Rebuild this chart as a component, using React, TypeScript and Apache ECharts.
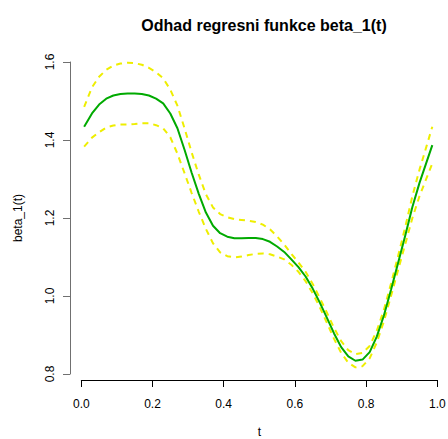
import React, { useEffect, useRef } from "react";
import * as echarts from "echarts";

const tValues = [
  0.008, 0.03, 0.05, 0.07, 0.09, 0.11, 0.13, 0.15, 0.17, 0.19,
  0.21, 0.23, 0.25, 0.27, 0.29, 0.31, 0.33, 0.35, 0.37, 0.39,
  0.41, 0.43, 0.45, 0.47, 0.49, 0.51, 0.53, 0.55, 0.57, 0.59,
  0.61, 0.63, 0.65, 0.67, 0.69, 0.71, 0.73, 0.75, 0.77, 0.79,
  0.81, 0.83, 0.85, 0.87, 0.89, 0.91, 0.93, 0.95, 0.97, 0.986,
];

const betaEstimate = [
  1.434, 1.468, 1.491, 1.506, 1.514, 1.518, 1.519, 1.519, 1.518, 1.514,
  1.506, 1.494, 1.468, 1.43, 1.375, 1.316, 1.262, 1.214, 1.18, 1.161,
  1.152, 1.148, 1.148, 1.149, 1.149, 1.146, 1.139, 1.127, 1.113, 1.094,
  1.074, 1.05, 1.019, 0.983, 0.944, 0.904, 0.869, 0.845, 0.834, 0.837,
  0.856, 0.896, 0.95, 1.016, 1.085, 1.155, 1.228, 1.29, 1.344, 1.387,
];

const upperBand = [
  1.485, 1.535, 1.562, 1.58, 1.591, 1.596, 1.598, 1.597, 1.593, 1.585,
  1.574, 1.558, 1.529, 1.488, 1.43, 1.368, 1.311, 1.261, 1.227, 1.21,
  1.202, 1.197, 1.195, 1.193, 1.19, 1.183, 1.171, 1.153, 1.132, 1.108,
  1.086, 1.062, 1.031, 0.995, 0.957, 0.918, 0.884, 0.861, 0.851, 0.854,
  0.872, 0.911, 0.965, 1.032, 1.103, 1.177, 1.256, 1.324, 1.385, 1.434,
];

const lowerBand = [
  1.383, 1.406, 1.42, 1.432, 1.437, 1.44, 1.44, 1.441, 1.443, 1.443,
  1.438, 1.43, 1.407, 1.365, 1.315, 1.264, 1.216, 1.172, 1.135, 1.112,
  1.102, 1.099, 1.101, 1.105, 1.108, 1.109, 1.107, 1.101, 1.094, 1.08,
  1.062, 1.038, 1.007, 0.971, 0.931, 0.89, 0.854, 0.829, 0.817, 0.82,
  0.84, 0.881, 0.935, 1.0, 1.067, 1.133, 1.2, 1.256, 1.303, 1.34,
];

const xTicks = [0, 0.2, 0.4, 0.6, 0.8, 1.0];
const yTicks = [0.8, 1.0, 1.2, 1.4, 1.6];

const FONT = "'Liberation Sans', Arial, Helvetica, sans-serif";

export default function App() {
  const ref = useRef<HTMLDivElement>(null);

  useEffect(() => {
    if (!ref.current) return;
    const chart = echarts.init(ref.current, undefined, { renderer: "svg" });
    const pairs = (vals: number[]) => tValues.map((t, i) => [t, vals[i]]);
    const dashed = {
      type: "line",
      showSymbol: false,
      symbol: "none",
      clip: false,
      lineStyle: { color: "#EEEE00", width: 2, type: [6, 5] },
      z: 2,
    };
    chart.setOption({
      animation: false,
      backgroundColor: "#ffffff",
      textStyle: { fontFamily: FONT },
      title: {
        text: "Odhad regresni funkce beta_1(t)",
        left: 259,
        top: 12,
        textAlign: "center",
        textStyle: { fontFamily: FONT, fontSize: 16, fontWeight: "bold", color: "#000" },
      },
      grid: {
        left: 81.3,
        right: 10.7,
        top: 62,
        bottom: 65,
        containLabel: false,
        outerBoundsMode: "none",
      },
      xAxis: {
        type: "value",
        min: xTicks[0],
        max: xTicks[xTicks.length - 1],
        interval: 0.2,
        offset: 6,
        name: "t",
        nameLocation: "middle",
        nameGap: 46,
        nameTextStyle: { fontFamily: FONT, fontSize: 12, lineHeight: 12, color: "#000" },
        axisLine: { show: true, onZero: false, lineStyle: { color: "#000", width: 1 } },
        axisTick: { show: true, length: 7, lineStyle: { color: "#000" } },
        axisLabel: {
          fontFamily: FONT,
          fontSize: 12,
          color: "#000",
          margin: 18,
          formatter: (v: number) => v.toFixed(1),
        },
        splitLine: { show: false },
      },
      yAxis: {
        type: "value",
        min: yTicks[0],
        max: yTicks[yTicks.length - 1],
        interval: 0.2,
        offset: 11.3,
        name: "beta_1(t)",
        nameLocation: "middle",
        nameGap: 46,
        nameRotate: 90,
        nameTextStyle: { fontFamily: FONT, fontSize: 12, color: "#000" },
        axisLine: { show: true, onZero: false, lineStyle: { color: "#707070", width: 1 } },
        axisTick: { show: true, length: 7, lineStyle: { color: "#707070" } },
        axisLabel: {
          fontFamily: FONT,
          fontSize: 12,
          color: "#000",
          rotate: 90,
          margin: 14,
          formatter: (v: number) => v.toFixed(1),
        },
        splitLine: { show: false },
      },
      series: [
        { ...dashed, name: "upper", data: pairs(upperBand) },
        { ...dashed, name: "lower", data: pairs(lowerBand) },
        {
          type: "line",
          name: "beta_1",
          showSymbol: false,
          symbol: "none",
          clip: false,
          data: pairs(betaEstimate),
          lineStyle: { color: "#00AA00", width: 2 },
          z: 3,
        },
      ],
    });
    return () => chart.dispose();
  }, []);

  return (
    <div
      ref={ref}
      style={{ position: "absolute", left: 0, top: 0, width: 448, height: 439 }}
    />
  );
}
